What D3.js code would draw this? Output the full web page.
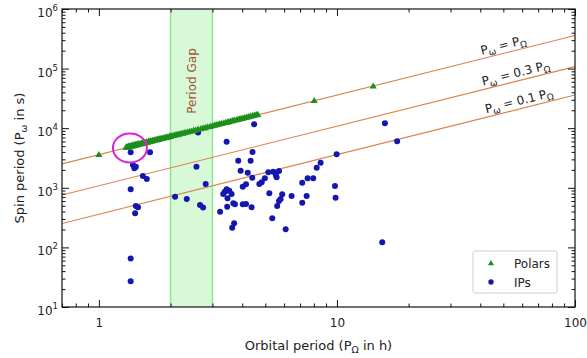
<!DOCTYPE html>
<html>
<head>
<meta charset="utf-8">
<script src="https://cdn.jsdelivr.net/npm/d3@7"></script>
<style>
  body { margin: 0; background: #fff; }
  text { font-family: "DejaVu Sans", sans-serif; fill: #222; }
</style>
</head>
<body>
<div id="chart"></div>
<script>
// polars: orbital period (h) and spin period (s)
var polarsOrb = [1.00, 1.30, 1.31, 1.32, 1.33, 1.34, 1.35, 1.36, 1.37, 1.38, 1.39, 1.40, 1.41, 1.42, 1.43,
  1.44, 1.45, 1.46, 1.47, 1.48, 1.50, 1.51, 1.52, 1.54, 1.55, 1.57, 1.58, 1.60, 1.62, 1.63, 1.65, 1.67,
  1.68, 1.70, 1.72, 1.74, 1.76, 1.78, 1.80, 1.82, 1.84, 1.86, 1.88, 1.90, 1.93, 1.95, 1.98, 2.00, 2.03,
  2.06, 2.09, 2.12, 2.15, 2.18, 2.22, 2.26, 2.30, 2.35, 2.40, 2.45, 2.50, 2.55, 2.61, 2.68, 2.74, 2.80,
  2.86, 2.93, 3.00, 3.06, 3.11, 3.17, 3.22, 3.28, 3.35, 3.41, 3.47, 3.52, 3.58, 3.64, 3.70, 3.78, 3.84,
  3.90, 3.96, 4.03, 4.10, 4.18, 4.25, 4.33, 4.42, 4.50, 4.58, 4.65, 8.03, 14.2];
var polarsSpin = [3550, 4700, 4820, 4730, 4900, 4790, 4980, 4880, 5050, 4940, 5120, 5000, 5180, 5060, 5250,
  5150, 5340, 5230, 5400, 5290, 5480, 5390, 5580, 5500, 5700, 5620, 5790, 5720, 5950, 5820, 6050, 5960,
  6150, 6090, 6300, 6230, 6420, 6380, 6560, 6520, 6700, 6650, 6850, 6800, 7020, 6950, 7200, 7150, 7380,
  7380, 7600, 7600, 7800, 7820, 8050, 8100, 8330, 8450, 8680, 8800, 9050, 9150, 9450, 9620, 9900, 10050,
  10350, 10500, 10850, 11000, 11250, 11400, 11650, 11800, 12100, 12250, 12550, 12650, 12950, 13100, 13350,
  13600, 13850, 14050, 14300, 14500, 14800, 15050, 15350, 15600, 15950, 16200, 16550, 16750, 28600, 50000];

// intermediate polars: orbital period (h) and spin period (s)
var ipsOrb = [1.36, 1.64, 1.39, 1.43, 1.41, 1.53, 1.59, 1.36, 1.43, 1.46, 1.42, 2.09, 2.34, 2.57, 2.81,
  2.66, 2.74, 2.61, 1.36, 1.36, 3.23, 4.49, 3.44, 4.42, 3.85, 4.34, 3.94, 4.22, 4.41, 5.15, 5.40, 5.71,
  5.54, 5.58, 4.98, 4.83, 4.72, 4.15, 4.02, 3.44, 3.53, 3.38, 3.61, 3.33, 3.47, 3.67, 3.73, 3.46, 4.02,
  4.15, 4.38, 5.20, 5.89, 5.80, 5.71, 5.61, 6.45, 5.35, 3.70, 3.63, 6.09, 7.15, 7.53, 7.95, 8.22, 8.54,
  9.97, 9.81, 9.87, 7.46, 7.15, 15.9, 17.9, 15.5];
var ipsSpin = [3950, 3950, 2420, 2260, 2120, 1580, 1410, 945, 495, 470, 375, 710, 650, 2260, 1160,
  515, 465, 8500, 65, 27, 397, 11700, 5900, 4000, 2850, 2850, 1940, 1790, 1480, 1820, 1860, 1910,
  1640, 1500, 1440, 1240, 1160, 1145, 1040, 945, 893, 860, 787, 787, 667, 550, 529, 482, 529,
  535, 471, 809, 778, 649, 601, 495, 728, 308, 254, 214, 201, 1220, 1440, 1440, 2170, 2640,
  3650, 1070, 682, 728, 563, 12100, 6030, 122];

var ratios = [1, 0.3, 0.1];
var ratioText = ["", "0.3 ", "0.1 "];
var gapRange = [2, 3];
var circleCentre = [1.35, 4660];
var xMajor = [1, 10, 100];
var yMajor = [10, 100, 1000, 10000, 100000, 1000000];

var width = 587, height = 358;
var margin = {top: 9, right: 12, bottom: 51, left: 62};
var iw = width - margin.left - margin.right;
var ih = height - margin.top - margin.bottom;

var svg = d3.select("#chart").append("svg")
    .attr("width", width)
    .attr("height", height);

var g = svg.append("g")
    .attr("transform", "translate(" + margin.left + "," + margin.top + ")");

var x = d3.scaleLog().domain([0.7, 100]).range([0, iw]);
var y = d3.scaleLog().domain([10, 1e6]).range([ih, 0]);

g.append("clipPath").attr("id", "clip")
  .append("rect").attr("width", iw).attr("height", ih);

// period gap band
g.append("rect")
    .attr("x", x(gapRange[0]))
    .attr("y", 0)
    .attr("width", x(gapRange[1]) - x(gapRange[0]))
    .attr("height", ih)
    .attr("fill", "#90ee90")
    .attr("fill-opacity", 0.35);
gapRange.forEach(function(d) {
  g.append("line")
      .attr("x1", x(d)).attr("x2", x(d))
      .attr("y1", 0).attr("y2", ih)
      .attr("stroke", "#8fe88f")
      .attr("stroke-width", 1.5);
});

g.append("text")
    .attr("transform", "translate(" + (x(Math.sqrt(gapRange[0] * gapRange[1])) + 4) + "," + 72 + ") rotate(-90)")
    .attr("text-anchor", "middle")
    .style("font-size", "12px")
    .style("fill", "#a0522d")
    .text("Period Gap");

// P_spin = k * P_orb lines
var lineGen = d3.line()
    .x(function(d) { return x(d[0]); })
    .y(function(d) { return y(d[1]); });

var xd = x.domain();
ratios.forEach(function(k) {
  g.append("path")
      .datum([[xd[0], k * 3600 * xd[0]], [xd[1], k * 3600 * xd[1]]])
      .attr("clip-path", "url(#clip)")
      .attr("d", lineGen)
      .attr("fill", "none")
      .attr("stroke", "#d9824a")
      .attr("stroke-width", 1.1);
});

function rich(t, parts) {
  // parts: [string, shift px, font px]
  var prev = 0;
  parts.forEach(function(p) {
    t.append("tspan")
        .attr("dy", p[1] - prev)
        .style("font-size", p[2] + "px")
        .text(p[0]);
    prev = p[1];
  });
}

var angle = Math.atan2(y(3600 * 100) - y(3600 * 10), x(100) - x(10)) * 180 / Math.PI;
var labelAt = [51, 57.5, 59.3];
ratios.forEach(function(k, i) {
  var px = x(labelAt[i]), py = y(k * 3600 * labelAt[i]);
  var t = g.append("text")
      .attr("transform", "translate(" + px + "," + py + ") rotate(" + angle + ")")
      .attr("text-anchor", "middle")
      .attr("y", -4);
  rich(t, [["P", 0, 12], ["\u03c9", 3, 9], [" = " + ratioText[i] + "P", 0, 12], ["\u03a9", 3, 9]]);
});

// axes: ticks point inwards on all four sides
var xMinor = x.ticks().filter(function(d) { return xMajor.indexOf(d) < 0; });
var yMinor = y.ticks().filter(function(d) { return yMajor.indexOf(d) < 0; });

function tidy(a) { a.select(".domain").remove(); a.selectAll("line").attr("stroke", "#111"); }

var xb = g.append("g").attr("transform", "translate(0," + ih + ")")
    .call(d3.axisBottom(x).tickValues(xMajor).tickSize(-7).tickPadding(11).tickFormat(d3.format("d")));
tidy(xb);
xb.selectAll("text").style("font-size", "12px").style("fill", "#222");
tidy(g.append("g").attr("transform", "translate(0," + ih + ")")
    .call(d3.axisBottom(x).tickValues(xMinor).tickSize(-3.5).tickFormat("")));
tidy(g.append("g").call(d3.axisTop(x).tickValues(xMajor).tickSize(-7).tickFormat("")));
tidy(g.append("g").call(d3.axisTop(x).tickValues(xMinor).tickSize(-3.5).tickFormat("")));

var yl = g.append("g")
    .call(d3.axisLeft(y).tickValues(yMajor).tickSize(-7).tickFormat(""));
tidy(yl);
yl.selectAll(".tick").append("text")
    .attr("x", -4)
    .attr("y", 7.5)
    .attr("text-anchor", "end")
    .style("fill", "#222")
    .each(function(d) {
      rich(d3.select(this), [["10", 0, 12], [String(Math.round(Math.log10(d))), -6, 8.5]]);
    });
tidy(g.append("g").call(d3.axisLeft(y).tickValues(yMinor).tickSize(-3.5).tickFormat("")));
tidy(g.append("g").attr("transform", "translate(" + iw + ",0)")
    .call(d3.axisRight(y).tickValues(yMajor).tickSize(-7).tickFormat("")));
tidy(g.append("g").attr("transform", "translate(" + iw + ",0)")
    .call(d3.axisRight(y).tickValues(yMinor).tickSize(-3.5).tickFormat("")));

g.append("rect")
    .attr("width", iw).attr("height", ih)
    .attr("fill", "none")
    .attr("stroke", "#111")
    .attr("stroke-width", 1.2);

// data
var tri = d3.symbol().type(d3.symbolTriangle).size(22);

var points = g.append("g").attr("clip-path", "url(#clip)");
points.selectAll(".ip")
    .data(ipsOrb.map(function(d, i) { return [d, ipsSpin[i]]; }))
  .enter().append("circle")
    .attr("class", "ip")
    .attr("cx", function(d) { return x(d[0]); })
    .attr("cy", function(d) { return y(d[1]); })
    .attr("r", 3)
    .attr("fill", "#1515b0");

points.selectAll(".polar")
    .data(polarsOrb.map(function(d, i) { return [d, polarsSpin[i]]; }))
  .enter().append("path")
    .attr("class", "polar")
    .attr("d", tri)
    .attr("transform", function(d) { return "translate(" + x(d[0]) + "," + y(d[1]) + ")"; })
    .attr("fill", "#1c8f1c");

// highlight circle
g.append("ellipse")
    .attr("cx", x(circleCentre[0]))
    .attr("cy", y(circleCentre[1]))
    .attr("rx", 17)
    .attr("ry", 14.5)
    .attr("fill", "none")
    .attr("stroke", "#e020d8")
    .attr("stroke-width", 2);

// legend
var lg = g.append("g").attr("transform", "translate(" + (iw - 102) + "," + (ih - 56) + ")");
lg.append("rect")
    .attr("width", 84).attr("height", 42)
    .attr("rx", 2)
    .attr("fill", "#fff")
    .attr("stroke", "#cfcfcf");
lg.append("path")
    .attr("d", d3.symbol().type(d3.symbolTriangle).size(16))
    .attr("transform", "translate(18,12.5)")
    .attr("fill", "#1c8f1c");
lg.append("circle")
    .attr("cx", 18).attr("cy", 31)
    .attr("r", 2.7)
    .attr("fill", "#1515b0");
lg.append("text").attr("x", 41).attr("y", 17).style("font-size", "12px").text("Polars");
lg.append("text").attr("x", 41).attr("y", 35.5).style("font-size", "12px").text("IPs");

// axis titles
var xt = svg.append("text")
    .attr("x", margin.left + iw / 2)
    .attr("y", 350)
    .attr("text-anchor", "middle");
rich(xt, [["Orbital period (P", 0, 13], ["\u03a9", 3, 9.5], [" in h)", 0, 13]]);

var yt = svg.append("text")
    .attr("transform", "translate(24," + (margin.top + ih / 2) + ") rotate(-90)")
    .attr("text-anchor", "middle");
rich(yt, [["Spin period (P", 0, 13], ["\u03c9", 3, 9.5], [" in s)", 0, 13]]);
</script>
</body>
</html>
